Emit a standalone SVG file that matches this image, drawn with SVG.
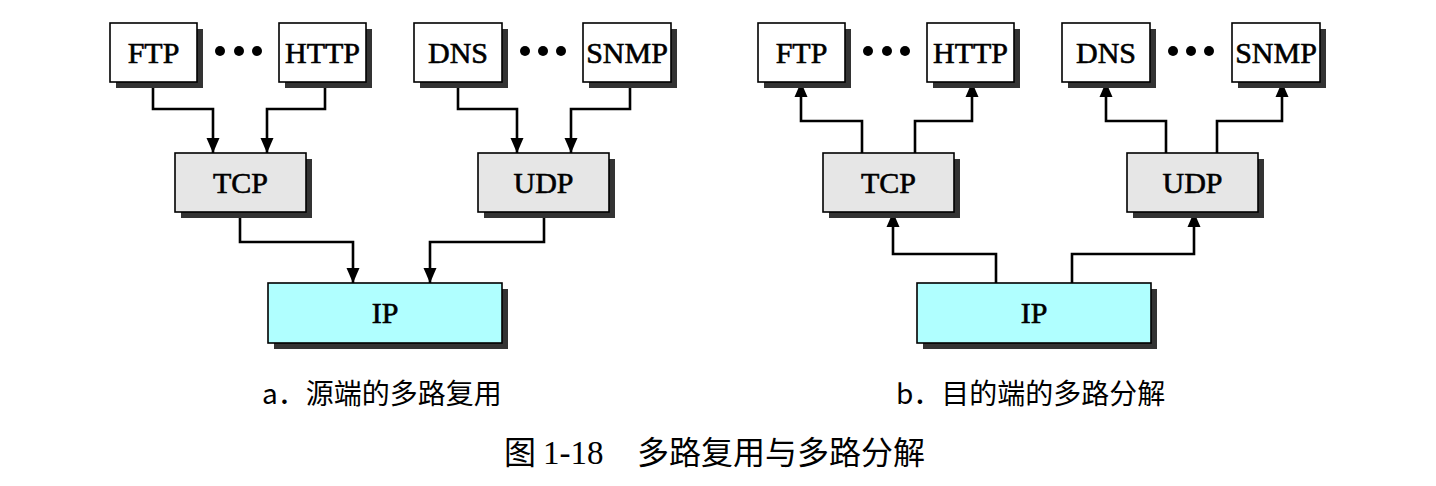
<svg xmlns="http://www.w3.org/2000/svg" width="1436" height="486" viewBox="0 0 1436 486">
<style>
  .shadow { fill: #333333; }
  .box { stroke: #000; stroke-width: 1.6; }
  .app { fill: #ffffff; }
  .tr { fill: #e6e6e6; }
  .ip { fill: #b0ffff; }
  .lbl { font-family: "Liberation Serif", "Times New Roman", serif; font-size: 30px; fill: #000; stroke: #000; stroke-width: 0.6; text-anchor: middle; }
  .cap { font-family: "Noto Sans CJK SC", "Noto Sans", sans-serif; font-size: 28px; fill: #000; }
  .conn { fill: none; stroke: #000; stroke-width: 2.6; }
  .dot { fill: #000; }
</style>
<defs>
  <marker id="arr" markerUnits="userSpaceOnUse" markerWidth="16" markerHeight="16" viewBox="0 0 16 16" refX="15" refY="8" orient="auto">
    <path d="M0,1.5 L15,8 L0,14.5 Z" fill="#000"/>
  </marker>
</defs>
<rect width="1436" height="486" fill="#ffffff"/>

<g id="connectors">
  <path class="conn" marker-end="url(#arr)" d="M153,82 V109 H213 V153"/>
  <path class="conn" marker-end="url(#arr)" d="M325,82 V109 H267 V153"/>
  <path class="conn" marker-end="url(#arr)" d="M458,82 V109 H517 V153"/>
  <path class="conn" marker-end="url(#arr)" d="M630,82 V109 H571 V153"/>
  <path class="conn" marker-end="url(#arr)" d="M240,212 V242 H353 V283"/>
  <path class="conn" marker-end="url(#arr)" d="M544,212 V242 H430 V283"/>

  <path class="conn" marker-end="url(#arr)" d="M862,153 V121 H801 V82"/>
  <path class="conn" marker-end="url(#arr)" d="M915,153 V121 H972 V82"/>
  <path class="conn" marker-end="url(#arr)" d="M1166,153 V121 H1106 V82"/>
  <path class="conn" marker-end="url(#arr)" d="M1217,153 V121 H1282 V82"/>
  <path class="conn" marker-end="url(#arr)" d="M996,283 V254 H893 V212"/>
  <path class="conn" marker-end="url(#arr)" d="M1072,283 V254 H1194 V212"/>
</g>

<!-- Left: a -->
<g id="a-ftp"><rect class="shadow" x="116" y="29" width="87" height="59"/><rect class="box app" x="110" y="23" width="87" height="59"/><text class="lbl" x="153.5" y="63">FTP</text></g>
<g id="a-http"><rect class="shadow" x="285" y="29" width="87" height="59"/><rect class="box app" x="279" y="23" width="87" height="59"/><text class="lbl" x="322.5" y="63">HTTP</text></g>
<g id="a-dns"><rect class="shadow" x="420" y="29" width="88" height="59"/><rect class="box app" x="414" y="23" width="88" height="59"/><text class="lbl" x="458" y="63">DNS</text></g>
<g id="a-snmp"><rect class="shadow" x="589" y="29" width="88" height="59"/><rect class="box app" x="583" y="23" width="88" height="59"/><text class="lbl" x="627" y="63">SNMP</text></g>
<g id="a-dots1"><circle class="dot" cx="220" cy="51" r="5"/><circle class="dot" cx="239" cy="51" r="5"/><circle class="dot" cx="257" cy="51" r="5"/></g>
<g id="a-dots2"><circle class="dot" cx="525" cy="51" r="5"/><circle class="dot" cx="543" cy="51" r="5"/><circle class="dot" cx="561" cy="51" r="5"/></g>
<g id="a-tcp"><rect class="shadow" x="181" y="159" width="131" height="59"/><rect class="box tr" x="175" y="153" width="131" height="59"/><text class="lbl" x="240.5" y="193">TCP</text></g>
<g id="a-udp"><rect class="shadow" x="484" y="159" width="131" height="59"/><rect class="box tr" x="478" y="153" width="131" height="59"/><text class="lbl" x="543.5" y="193">UDP</text></g>
<g id="a-ip"><rect class="shadow" x="274" y="289" width="234" height="60"/><rect class="box ip" x="268" y="283" width="234" height="60"/><text class="lbl" x="385" y="323">IP</text></g>

<!-- Right: b -->
<g id="b-ftp"><rect class="shadow" x="764" y="29" width="87" height="59"/><rect class="box app" x="758" y="23" width="87" height="59"/><text class="lbl" x="801.5" y="63">FTP</text></g>
<g id="b-http"><rect class="shadow" x="933" y="29" width="87" height="59"/><rect class="box app" x="927" y="23" width="87" height="59"/><text class="lbl" x="970.5" y="63">HTTP</text></g>
<g id="b-dns"><rect class="shadow" x="1068" y="29" width="88" height="59"/><rect class="box app" x="1062" y="23" width="88" height="59"/><text class="lbl" x="1106" y="63">DNS</text></g>
<g id="b-snmp"><rect class="shadow" x="1238" y="29" width="88" height="59"/><rect class="box app" x="1232" y="23" width="88" height="59"/><text class="lbl" x="1276" y="63">SNMP</text></g>
<g id="b-dots1"><circle class="dot" cx="868" cy="51" r="5"/><circle class="dot" cx="887" cy="51" r="5"/><circle class="dot" cx="905" cy="51" r="5"/></g>
<g id="b-dots2"><circle class="dot" cx="1173" cy="51" r="5"/><circle class="dot" cx="1191" cy="51" r="5"/><circle class="dot" cx="1209" cy="51" r="5"/></g>
<g id="b-tcp"><rect class="shadow" x="829" y="159" width="131" height="59"/><rect class="box tr" x="823" y="153" width="131" height="59"/><text class="lbl" x="888.5" y="193">TCP</text></g>
<g id="b-udp"><rect class="shadow" x="1133" y="159" width="131" height="59"/><rect class="box tr" x="1127" y="153" width="131" height="59"/><text class="lbl" x="1192.5" y="193">UDP</text></g>
<g id="b-ip"><rect class="shadow" x="923" y="289" width="234" height="60"/><rect class="box ip" x="917" y="283" width="234" height="60"/><text class="lbl" x="1034" y="323">IP</text></g>

<g id="captions">
  <text class="cap" x="262" y="404">a．源端的多路复用</text>
  <text class="cap" x="896" y="404">b．目的端的多路分解</text>
  <text class="cap" style="font-size:32px"><tspan x="504" y="464">图</tspan><tspan x="543" y="464" style="font-family:'Liberation Serif', serif; font-size:33px">1-18</tspan><tspan x="637" y="464">多路复用与多路分解</tspan></text>
</g>
</svg>
